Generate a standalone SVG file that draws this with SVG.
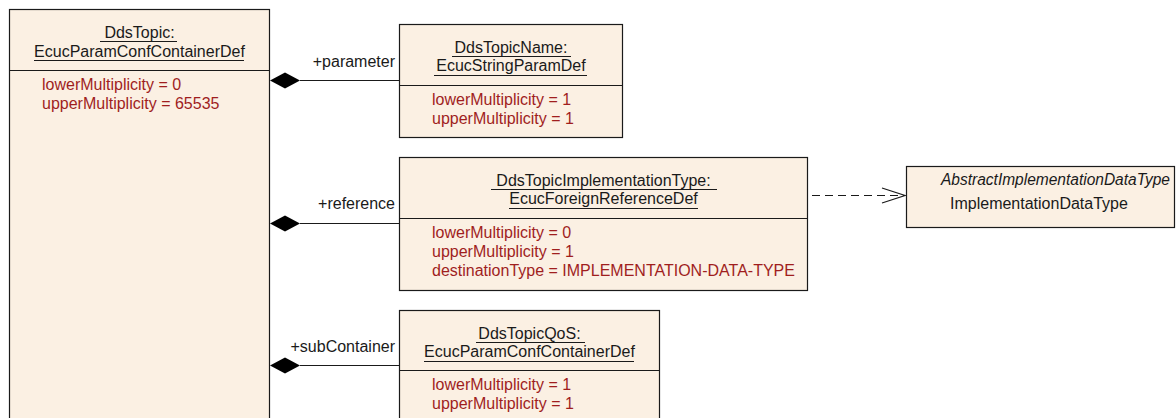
<svg xmlns="http://www.w3.org/2000/svg" width="1176" height="418" viewBox="0 0 1176 418">
<defs>
<style>
.box{fill:#FBF0E3;stroke:#1a1a1a;stroke-width:1.2}
.div{stroke:#1a1a1a;stroke-width:1.2}
.t{font-family:"Liberation Sans",Arial,sans-serif;font-size:16px;fill:#1a1a1a}
.c{text-anchor:middle}
.a{font-family:"Liberation Sans",Arial,sans-serif;font-size:16px;fill:#A01E1E}
.ul{stroke:#1a1a1a;stroke-width:1.2}
.ln{stroke:#1a1a1a;stroke-width:1.2;fill:none}
.lbl{font-family:"Liberation Sans",Arial,sans-serif;font-size:16px;fill:#1a1a1a;text-anchor:end}
</style>
<marker id="open" markerWidth="26" markerHeight="18" refX="24" refY="8.5" orient="auto" markerUnits="userSpaceOnUse">
<path d="M1,1 L24,8.5 L1,16" fill="none" stroke="#1a1a1a" stroke-width="1.2"/>
</marker>
<path id="dia" d="M0,0 L15,-8 L30,0 L15,8 Z" fill="#000"/>
</defs>

<g id="DdsTopic">
<rect class="box" x="9.5" y="9.5" width="260" height="420"/>
<line class="div" x1="9.5" y1="70.5" x2="269.5" y2="70.5"/>
<text class="t c" x="139.5" y="38">DdsTopic:</text>
<line class="ul" x1="100" y1="41.5" x2="177" y2="41.5"/>
<text class="t c" x="139.5" y="57">EcucParamConfContainerDef</text>
<line class="ul" x1="34" y1="60.5" x2="244" y2="60.5"/>
<text class="a" x="42" y="90">lowerMultiplicity = 0</text>
<text class="a" x="42" y="109">upperMultiplicity = 65535</text>
</g>

<g id="DdsTopicName">
<rect class="box" x="399.5" y="24.5" width="223" height="113"/>
<line class="div" x1="399.5" y1="85.5" x2="622.5" y2="85.5"/>
<text class="t c" x="511" y="53">DdsTopicName:</text>
<line class="ul" x1="452" y1="56.5" x2="571" y2="56.5"/>
<text class="t c" x="511" y="71">EcucStringParamDef</text>
<line class="ul" x1="434" y1="75.5" x2="587" y2="75.5"/>
<text class="a" x="432" y="105">lowerMultiplicity = 1</text>
<text class="a" x="432" y="124">upperMultiplicity = 1</text>
</g>

<g id="DdsTopicImplementationType">
<rect class="box" x="399.5" y="157.5" width="408" height="133"/>
<line class="div" x1="399.5" y1="218.5" x2="807.5" y2="218.5"/>
<text class="t c" x="603.5" y="186">DdsTopicImplementationType:</text>
<line class="ul" x1="491" y1="189.5" x2="717" y2="189.5"/>
<text class="t c" x="603.5" y="204">EcucForeignReferenceDef</text>
<line class="ul" x1="509" y1="208.5" x2="698" y2="208.5"/>
<text class="a" x="432" y="238">lowerMultiplicity = 0</text>
<text class="a" x="432" y="257">upperMultiplicity = 1</text>
<text class="a" x="432" y="276">destinationType = IMPLEMENTATION-DATA-TYPE</text>
</g>

<g id="AbstractImplementationDataType">
<rect class="box" x="906.5" y="166.5" width="268" height="61"/>
<text class="t" x="941" y="185" font-style="italic" textLength="229" lengthAdjust="spacingAndGlyphs">AbstractImplementationDataType</text>
<text class="t" x="950" y="209">ImplementationDataType</text>
</g>

<g id="DdsTopicQoS">
<rect class="box" x="399.5" y="310.5" width="260" height="120"/>
<line class="div" x1="399.5" y1="370.5" x2="659.5" y2="370.5"/>
<text class="t c" x="529.5" y="339">DdsTopicQoS:</text>
<line class="ul" x1="476" y1="342.5" x2="585" y2="342.5"/>
<text class="t c" x="529.5" y="357">EcucParamConfContainerDef</text>
<line class="ul" x1="424" y1="361.5" x2="634" y2="361.5"/>
<text class="a" x="432" y="390">lowerMultiplicity = 1</text>
<text class="a" x="432" y="409">upperMultiplicity = 1</text>
</g>

<g id="connectors">
<line class="ln" x1="300" y1="80.5" x2="399.5" y2="80.5"/>
<use href="#dia" x="270" y="80.5"/>
<text class="lbl" x="395" y="67">+parameter</text>

<line class="ln" x1="300" y1="223.5" x2="399.5" y2="223.5"/>
<use href="#dia" x="270" y="223.5"/>
<text class="lbl" x="395" y="209">+reference</text>

<line class="ln" x1="300" y1="365.5" x2="399.5" y2="365.5"/>
<use href="#dia" x="270" y="365.5"/>
<text class="lbl" x="395" y="352">+subContainer</text>

<line class="ln" x1="812" y1="195.5" x2="905" y2="195.5" stroke-dasharray="8,5" marker-end="url(#open)"/>
</g>
</svg>
